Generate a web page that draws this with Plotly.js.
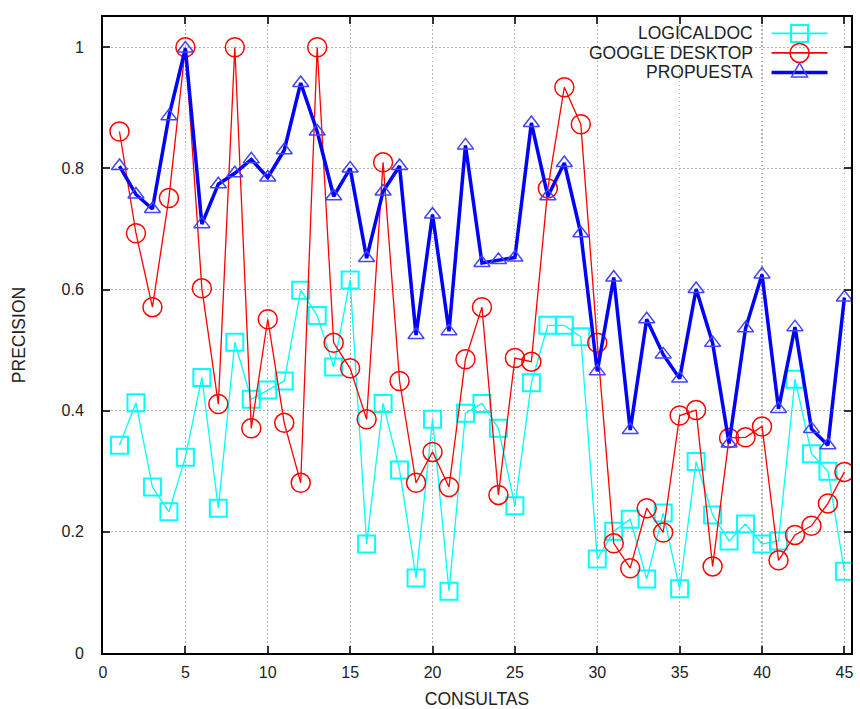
<!DOCTYPE html>
<html>
<head>
<meta charset="utf-8">
<script src="https://cdn.plot.ly/plotly-3.0.1.min.js"></script>
<style>html,body{margin:0;padding:0;background:#fff;}#chart{width:860px;height:709px;}</style>
</head>
<body>
<div id="chart"></div>
<script>
const consultas = [1,2,3,4,5,6,7,8,9,10,11,12,13,14,15,16,17,18,19,20,21,22,23,24,25,26,27,28,29,30,31,32,33,34,35,36,37,38,39,40,41,42,43,44,45];
const logicaldoc = [0.343,0.413,0.274,0.233,0.323,0.455,0.239,0.513,0.419,0.434,0.449,0.599,0.557,0.472,0.616,0.180,0.412,0.302,0.124,0.386,0.102,0.396,0.412,0.371,0.243,0.446,0.541,0.541,0.522,0.155,0.201,0.221,0.122,0.231,0.106,0.316,0.228,0.185,0.213,0.180,0.185,0.452,0.329,0.300,0.135];
const googleDesktop = [0.861,0.693,0.571,0.751,1.0,0.602,0.411,1.0,0.371,0.551,0.380,0.281,1.0,0.512,0.470,0.386,0.810,0.449,0.281,0.332,0.274,0.485,0.571,0.261,0.487,0.481,0.767,0.934,0.873,0.512,0.181,0.140,0.239,0.199,0.392,0.401,0.143,0.355,0.356,0.374,0.153,0.195,0.210,0.247,0.299];
const propuesta = [0.804,0.757,0.733,0.886,0.998,0.708,0.774,0.792,0.815,0.785,0.830,0.941,0.861,0.754,0.800,0.652,0.762,0.804,0.525,0.724,0.531,0.838,0.644,0.649,0.653,0.875,0.754,0.809,0.693,0.465,0.620,0.368,0.551,0.493,0.453,0.601,0.512,0.346,0.536,0.625,0.403,0.538,0.370,0.343,0.587];
const seriesNames = ['LOGICALDOC','GOOGLE DESKTOP','PROPUESTA'];
const xTicks = [0,5,10,15,20,25,30,35,40,45];
const yTicks = [0,0.2,0.4,0.6,0.8,1];
const yTickText = ['0','0.2','0.4','0.6','0.8','1'];

const FONT = 'Liberation Sans, Arial, sans-serif';
const cyan = '#00ffff', red = '#ff0000', blue = '#0000ff';

const traces = [
  {x: consultas, y: logicaldoc, name: seriesNames[0], mode: 'lines+markers',
   line: {color: cyan, width: 1.3},
   marker: {symbol: 'square-open', size: 17, color: cyan, line: {color: cyan, width: 2}}},
  {x: consultas, y: googleDesktop, name: seriesNames[1], mode: 'lines+markers',
   line: {color: red, width: 1.3},
   marker: {symbol: 'circle-open', size: 19, color: red, line: {color: red, width: 1.5}}},
  {x: consultas, y: propuesta, name: seriesNames[2], mode: 'lines+markers',
   line: {color: blue, width: 3.5},
   marker: {symbol: 'triangle-up-open', size: 14, color: '#4444ff', line: {color: '#4444ff', width: 1.5}}}
];

// custom gnuplot-style legend (text left, sample right)
const legX0 = 0.8938, legX1 = 0.9686, legXm = 0.9312, legText = 0.8711;
const legY = [0.9741, 0.9435, 0.9128];
const shapes = [];
const annotations = [];
const cols = [cyan, red, blue];
const lw = [1.8, 1.8, 3.5];
for (let i = 0; i < 3; i++) {
  shapes.push({type: 'line', xref: 'paper', yref: 'paper', x0: legX0, x1: legX1, y0: legY[i], y1: legY[i],
    line: {color: cols[i], width: lw[i]}});
  annotations.push({xref: 'paper', yref: 'paper', x: legText, y: legY[i], xanchor: 'right', yanchor: 'middle',
    text: seriesNames[i], showarrow: false, font: {family: FONT, size: 17.5, color: '#222'}});
}
shapes.push({type: 'rect', xref: 'paper', yref: 'paper', xsizemode: 'pixel', ysizemode: 'pixel',
  xanchor: legXm, yanchor: legY[0], x0: -8.5, x1: 8.5, y0: -8.5, y1: 8.5, line: {color: cyan, width: 2}});
shapes.push({type: 'circle', xref: 'paper', yref: 'paper', xsizemode: 'pixel', ysizemode: 'pixel',
  xanchor: legXm, yanchor: legY[1], x0: -9.5, x1: 9.5, y0: -9.5, y1: 9.5, line: {color: red, width: 1.5}});
shapes.push({type: 'path', xref: 'paper', yref: 'paper', xsizemode: 'pixel', ysizemode: 'pixel',
  xanchor: legXm, yanchor: legY[2], path: 'M -8 -4.5 L 8 -4.5 L 0 9.5 Z', line: {color: '#4444ff', width: 1.5}});

const axisCommon = {
  showline: true, linecolor: '#000', linewidth: 2, mirror: 'allticks',
  ticks: 'inside', ticklen: 7, tickwidth: 2, tickcolor: '#333',
  showgrid: true, gridcolor: '#b4b4b4', griddash: '1.5px,2.5px', gridwidth: 1.2,
  zeroline: false, tickfont: {family: FONT, size: 16, color: '#222'}
};

const layout = {
  width: 860, height: 709,
  margin: {l: 103, r: 8.5, t: 16.5, b: 56},
  paper_bgcolor: '#fff', plot_bgcolor: '#fff',
  showlegend: false,
  font: {family: FONT, size: 16, color: '#222'},
  xaxis: Object.assign({}, axisCommon, {range: [0, 45.4], tickvals: xTicks, ticktext: xTicks.map(String),
    ticklabelstandoff: 4,
    title: {text: 'CONSULTAS', font: {family: FONT, size: 17.5, color: '#222'}, standoff: 16}}),
  yaxis: Object.assign({}, axisCommon, {range: [0, 1.05], tickvals: yTicks, ticktext: yTickText,
    ticklabelstandoff: 14,
    title: {text: 'PRECISION', font: {family: FONT, size: 17.5, color: '#222'}, standoff: 31}}),
  shapes: shapes,
  annotations: annotations
};

Plotly.newPlot('chart', traces, layout, {displayModeBar: false, staticPlot: true});
</script>
</body>
</html>
